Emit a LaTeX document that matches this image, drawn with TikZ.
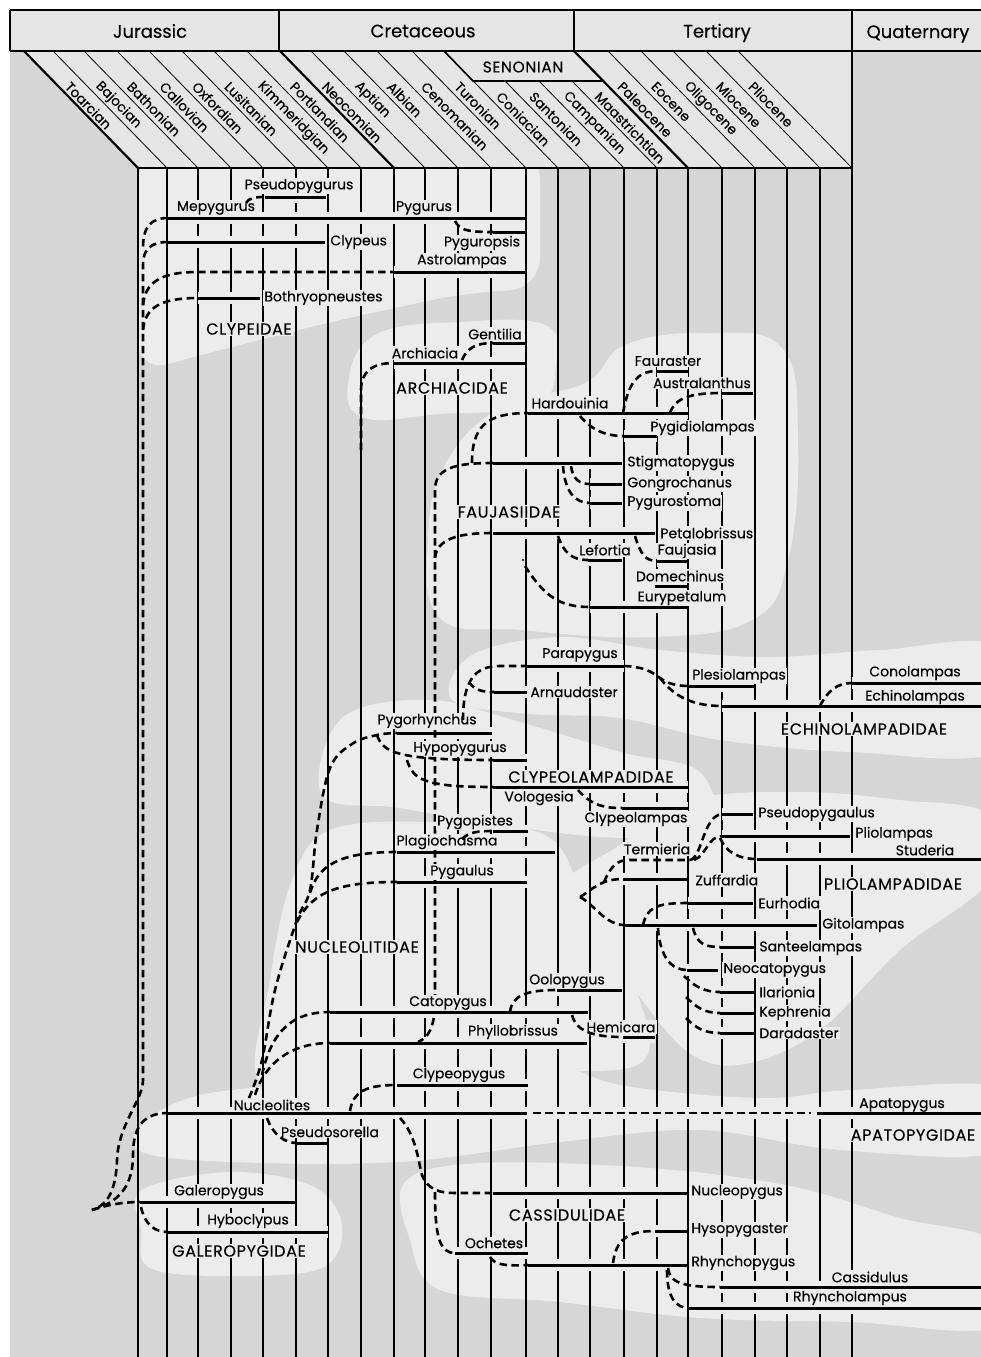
\documentclass[tikz,border=0pt]{standalone}
\usepackage{fontspec}
\setmainfont{Poppins}[FakeBold=0.35]
\newfontfamily\famfont{Poppins}[FakeBold=0.35, LetterSpace=4]
\definecolor{bgc}{HTML}{D6D6D6}
\definecolor{blobc}{HTML}{ECECEC}
\definecolor{hdrc}{HTML}{E5E5E5}
\tikzset{
  vline/.style={line width=1.1pt},
  vthick/.style={line width=2.2pt},
  barline/.style={line width=3pt},
  halo/.style={line width=12pt, blobc},
  dline/.style={line width=2.6pt, dash pattern=on 7.5pt off 4.5pt},
  lab/.style={font=\fontsize{14}{14}\selectfont, inner sep=1.2pt, fill=blobc},
  fam/.style={font=\famfont\fontsize{16}{16}\selectfont, inner sep=1.2pt, fill=blobc},
  stagelab/.style={font=\fontsize{13.5}{13.5}\selectfont, inner sep=0pt, rotate=-45.7, anchor=west},
  periodlab/.style={font=\fontsize{18}{18}\selectfont},
  hline/.style={line width=2.2pt},
}
\newcommand\taxon[4]{%
  \coordinate (#1-s) at (#2,#4);
  \coordinate (#1-e) at (#3,#4);
  \draw[halo] (#1-s) -- (#1-e);}
\begin{document}
\begin{tikzpicture}[x=1pt,y=-1pt]
\useasboundingbox (0,0) rectangle (981,1357);
\clip (0,0) rectangle (981,1357);
\fill[white] (0,0) rectangle (981,1357);
\fill[bgc] (10,10) rectangle (990,1360);
% ---------- blobs
\fill[blobc, rounded corners=30pt] (138,150) -- (540,150) -- (540,288) -- (460,294) -- (330,322) -- (220,350) -- (138,372) -- cycle;
\fill[blobc] plot[smooth cycle, tension=0.7] coordinates {(348,385) (375,335) (460,322) (545,325) (556,365) (535,405) (440,414) (365,418)};
\fill[blobc] plot[smooth cycle, tension=0.7] coordinates {(428,540) (445,465) (500,408) (585,383) (625,345) (705,333) (782,348) (798,440) (788,560) (752,620) (650,637) (520,630) (440,618)};
\fill[blobc] plot[smooth cycle, tension=0.6] coordinates {(452,700) (472,655) (560,637) (660,650) (770,657) (880,650) (1000,648) (1000,750) (850,752) (720,740) (620,718) (530,714)};
\fill[blobc] plot[smooth cycle, tension=0.6] coordinates {(322,795) (342,718) (430,700) (520,722) (620,752) (700,772) (708,830) (620,838) (500,825) (400,808)};
\fill[blobc] plot[smooth cycle, tension=0.6] coordinates {(262,1085) (270,980) (292,880) (330,830) (430,822) (545,835) (585,900) (632,980) (642,1062) (520,1070) (380,1072)};
\fill[blobc] plot[smooth cycle, tension=0.6] coordinates {(558,897) (620,845) (690,800) (800,792) (900,800) (990,815) (990,880) (900,950) (820,1030) (745,1064) (688,1052) (630,985)};
\fill[blobc] plot[smooth cycle, tension=0.6] coordinates {(142,1125) (200,1095) (330,1080) (400,1062) (530,1056) (620,1085) (760,1098) (850,1090) (1000,1088) (1000,1152) (840,1150) (700,1130) (560,1142) (400,1162) (230,1162) (142,1152)};
\fill[blobc] plot[smooth cycle, tension=0.6] coordinates {(142,1190) (230,1172) (312,1186) (342,1225) (322,1268) (230,1276) (150,1268) (141,1230)};
\fill[blobc] plot[smooth cycle, tension=0.6] coordinates {(405,1182) (480,1163) (650,1168) (790,1186) (900,1218) (1000,1245) (1000,1326) (850,1322) (700,1318) (560,1302) (440,1290) (410,1240)};
% ---------- vertical stage lines
\foreach \x in {167,198,231,263,296,328,361,394,425,458,491,526,558,590,624,657,688,722,755,787,820,852}
  \draw[vline] (\x,168) -- (\x,1360);
\draw[vthick] (138,168) -- (138,1360);
% ---------- header
\fill[hdrc] (10,10) rectangle (990,51);
\fill[hdrc] (24,51) -- (852,51) -- (852,168) -- (138,168) -- cycle;
\foreach \x in {167,198,231,263,296,328,361,425,458,491,526,558,722,755,787,820,852}
  \draw[line width=0.8pt] (\x-114,51) -- (\x,168);
\foreach \x in {590,624,657}
  \draw[line width=0.8pt] (\x-85,81) -- (\x,168);
\draw[hline] (24,51) -- (138,168);
\draw[hline] (280,51) -- (394,168);
\draw[hline] (574,51) -- (688,168);
\draw[line width=1.6pt] (444,51) -- (473,81) -- (603,81);
\draw[hline] (10,10) -- (990,10);
\draw[hline] (10,10) -- (10,51);
\draw[hline] (10,51) -- (990,51);
\draw[hline] (279,10) -- (279,51);
\draw[hline] (574,10) -- (574,51);
\draw[hline] (852,10) -- (852,168);
\draw[line width=1.3pt] (138,168) -- (852,168);
\node[periodlab] (pJur) at (150,31) {Jurassic};
\node[periodlab] (pCre) at (423,31) {Cretaceous};
\node[periodlab] (pTer) at (717,33) {Tertiary};
\node[periodlab] (pQua) at (918,34) {Quaternary};
\node[font=\famfont\fontsize{15.5}{15.5}\selectfont] (pSen) at (523,67) {SENONIAN};
\foreach \xa/\xb/\nm/\yy in {138/167/Toarcian/84, 167/198/Bajocian/84, 198/231/Bathonian/84,
   231/263/Callovian/84, 263/296/Oxfordian/84, 296/328/Lusitanian/84, 328/361/Kimmeridgian/84,
   361/394/Portlandian/84, 394/425/Neocomian/84, 425/458/Aptian/84, 458/491/Albian/84,
   491/526/Cenomanian/84, 526/558/Turonian/84, 558/590/Coniacian/94, 590/624/Santonian/94,
   624/657/Campanian/94, 657/688/Maastrichtian/94, 688/722/Paleocene/84, 722/755/Eocene/84,
   755/787/Oligocene/84, 787/820/Miocene/84, 820/852/Pliocene/84}
  \node[stagelab] at ({(\xa+\xb)/2 - 114*(168-\yy)/117 - 3}, \yy) {\nm};
% ---------- taxa (coordinates + halos)
\taxon{Pseudopygurus}{265}{326}{197}
\taxon{Pygurus}{168}{525}{218}
\taxon{Pyguropsis}{493}{525}{232}
\taxon{Clypeus}{168}{325}{242}
\taxon{Astrolampas}{394}{525}{272}
\taxon{Bothryopneustes}{198}{260}{298}
\taxon{Gentilia}{493}{525}{343}
\taxon{Archiacia}{394}{525}{363}
\taxon{Fauraster}{657}{688}{371}
\taxon{Australanthus}{722}{753}{393}
\taxon{Hardouinia}{528}{688}{413}
\taxon{Pygidiolampas}{624}{657}{436}
\taxon{Stigmatopygus}{493}{622}{463}
\taxon{Gongrochanus}{590}{622}{484}
\taxon{Pygurostoma}{590}{622}{503}
\taxon{Petalobrissus}{493}{655}{533}
\taxon{Lefortia}{588}{622}{560}
\taxon{Faujasia}{657}{687}{561}
\taxon{Domechinus}{655}{687}{586}
\taxon{Eurypetalum}{590}{687}{607}
\taxon{Parapygus}{527}{624}{666}
\taxon{Arnaudaster}{494}{527}{692}
\taxon{Plesiolampas}{689}{754}{686}
\taxon{Echinolampas}{722}{981}{706}
\taxon{Conolampas}{852}{981}{683}
\taxon{Pygorhynchus}{397}{492}{733}
\taxon{Hypopygurus}{493}{527}{760}
\taxon{Vologesia}{493}{688}{787}
\taxon{Clypeolampas}{622}{688}{808}
\taxon{Pygopistes}{493}{528}{831}
\taxon{Plagiochasma}{397}{555}{852}
\taxon{Pygaulus}{397}{527}{882}
\taxon{Catopygus}{330}{588}{1012}
\taxon{Oolopygus}{557}{622}{990}
\taxon{Hemicara}{623}{655}{1037}
\taxon{Phyllobrissus}{330}{587}{1043}
\taxon{Pseudopygaulus}{722}{753}{814}
\taxon{Pliolampas}{722}{850}{836}
\taxon{Studeria}{757}{981}{859}
\taxon{Zuffardia}{623}{687}{879}
\taxon{Eurhodia}{688}{753}{903}
\taxon{Gitolampas}{625}{817}{925}
\taxon{Santeelampas}{720}{754}{947}
\taxon{Neocatopygus}{687}{718}{970}
\taxon{Ilarionia}{720}{754}{992}
\taxon{Kephrenia}{720}{754}{1013}
\taxon{Daradaster}{720}{754}{1033}
\taxon{Clypeopygus}{397}{528}{1085}
\taxon{Nucleolites}{168}{527}{1113}
\taxon{Apatopygus}{817}{981}{1113}
\taxon{Pseudosorella}{297}{327}{1143}
\taxon{Galeropygus}{140}{295}{1202}
\taxon{Hyboclypus}{168}{328}{1232}
\taxon{Nucleopygus}{493}{687}{1193}
\taxon{Ochetes}{455}{528}{1253}
\taxon{Rhynchopygus}{528}{687}{1265}
\taxon{Hysopygaster}{655}{687}{1231}
\taxon{Cassidulus}{720}{981}{1287}
\taxon{Rhyncholampus}{689}{981}{1308}
\draw[halo] (533,1113) -- (811,1113);
% ---------- long trunk drawn below labels (labels interrupt it)
\draw[dline] (Stigmatopygus-s) .. controls (455,463) and (435,468) .. (435,490) -- (435,1000)
   .. controls (435,1028) and (428,1038) .. (418,1042);
% ---------- labels
\node[lab] (tPseudopygurus) at (299,186) {Pseudopygurus};
\node[lab] (tMepygurus) at (216,208) {Mepygurus};
\node[lab] (tPygurus) at (424,208) {Pygurus};
\node[lab] (tPyguropsis) at (482,243) {Pyguropsis};
\node[lab,anchor=west] (tClypeus) at (329,242) {Clypeus};
\node[lab] (tAstrolampas) at (462,261) {Astrolampas};
\node[lab,anchor=west] (tBothryopneustes) at (263,298) {Bothryopneustes};
\node[fam] (fClypeidae) at (249,329) {CLYPEIDAE};
\node[lab] (tGentilia) at (495,334) {Gentilia};
\node[lab] (tArchiacia) at (425,353) {Archiacia};
\node[fam] (fArchiacidae) at (452,388) {ARCHIACIDAE};
\node[lab] (tFauraster) at (668,361) {Fauraster};
\node[lab] (tAustralanthus) at (702,383) {Australanthus};
\node[lab] (tHardouinia) at (570,403) {Hardouinia};
\node[lab,anchor=west] (tPygidiolampas) at (649,428) {Pygidiolampas};
\node[lab,anchor=west] (tStigmatopygus) at (626,463) {Stigmatopygus};
\node[lab,anchor=west] (tGongrochanus) at (626,484) {Gongrochanus};
\node[lab,anchor=west] (tPygurostoma) at (626,503) {Pygurostoma};
\node[fam] (fFaujasiidae) at (509,512) {FAUJASIIDAE};
\node[lab,anchor=west] (tPetalobrissus) at (659,533) {Petalobrissus};
\node[lab] (tLefortia) at (605,550) {Lefortia};
\node[lab] (tFaujasia) at (687,551) {Faujasia};
\node[lab] (tDomechinus) at (680,576) {Domechinus};
\node[lab] (tEurypetalum) at (682,598) {Eurypetalum};
\node[lab] (tParapygus) at (580,655) {Parapygus};
\node[lab,anchor=west] (tArnaudaster) at (529,692) {Arnaudaster};
\node[lab] (tPlesiolampas) at (739,676) {Plesiolampas};
\node[lab] (tConolampas) at (915,673) {Conolampas};
\node[lab] (tEchinolampas) at (915,697) {Echinolampas};
\node[fam] (fEchinolampadidae) at (864,729) {ECHINOLAMPADIDAE};
\node[lab] (tPygorhynchus) at (427,721) {Pygorhynchus};
\node[lab] (tHypopygurus) at (460,749) {Hypopygurus};
\node[fam] (fClypeolampadidae) at (591,777) {CLYPEOLAMPADIDAE};
\node[lab] (tVologesia) at (539,798) {Vologesia};
\node[lab] (tClypeolampas) at (636,819) {Clypeolampas};
\node[lab] (tPygopistes) at (475,822) {Pygopistes};
\node[lab] (tPlagiochasma) at (447,842) {Plagiochasma};
\node[lab] (tPygaulus) at (462,872) {Pygaulus};
\node[fam] (fNucleolitidae) at (357,947) {NUCLEOLITIDAE};
\node[lab,anchor=west] (tPseudopygaulus) at (757,814) {Pseudopygaulus};
\node[lab,anchor=west] (tPliolampas) at (854,834) {Pliolampas};
\node[lab] (tStuderia) at (925,850) {Studeria};
\node[lab] (tTermieria) at (657,849) {Termieria};
\node[lab,anchor=west] (tZuffardia) at (694,880) {Zuffardia};
\node[fam] (fPliolampadidae) at (893,884) {PLIOLAMPADIDAE};
\node[lab,anchor=west] (tEurhodia) at (757,903) {Eurhodia};
\node[lab,anchor=west] (tGitolampas) at (821,925) {Gitolampas};
\node[lab,anchor=west] (tSanteelampas) at (758,948) {Santeelampas};
\node[lab,anchor=west] (tNeocatopygus) at (722,970) {Neocatopygus};
\node[lab,anchor=west] (tIlarionia) at (758,992) {Ilarionia};
\node[lab,anchor=west] (tKephrenia) at (758,1013) {Kephrenia};
\node[lab,anchor=west] (tDaradaster) at (758,1033) {Daradaster};
\node[lab] (tOolopygus) at (567,981) {Oolopygus};
\node[lab] (tCatopygus) at (448,1003) {Catopygus};
\node[lab] (tHemicara) at (621,1027) {Hemicara};
\node[lab] (tPhyllobrissus) at (513,1032) {Phyllobrissus};
\node[lab] (tClypeopygus) at (459,1075) {Clypeopygus};
\node[lab] (tNucleolites) at (272,1105) {Nucleolites};
\node[lab] (tApatopygus) at (902,1105) {Apatopygus};
\node[fam] (fApatopygidae) at (913,1135) {APATOPYGIDAE};
\node[lab] (tPseudosorella) at (330,1132) {Pseudosorella};
\node[lab] (tGaleropygus) at (219,1192) {Galeropygus};
\node[lab] (tHyboclypus) at (248,1221) {Hyboclypus};
\node[fam] (fGaleropygidae) at (239,1251) {GALEROPYGIDAE};
\node[lab,anchor=west] (tNucleopygus) at (690,1192) {Nucleopygus};
\node[fam] (fCassidulidae) at (567,1215) {CASSIDULIDAE};
\node[lab,anchor=west] (tHysopygaster) at (690,1230) {Hysopygaster};
\node[lab] (tOchetes) at (494,1243) {Ochetes};
\node[lab,anchor=west] (tRhynchopygus) at (690,1263) {Rhynchopygus};
\node[lab] (tCassidulus) at (870,1277) {Cassidulus};
\node[lab] (tRhyncholampus) at (850,1298) {Rhyncholampus};
% ---------- solid bars
\foreach \t in {Pseudopygurus,Pygurus,Pyguropsis,Clypeus,Astrolampas,Bothryopneustes,Gentilia,Archiacia,
  Fauraster,Australanthus,Hardouinia,Pygidiolampas,Stigmatopygus,Gongrochanus,Pygurostoma,Petalobrissus,
  Lefortia,Faujasia,Domechinus,Eurypetalum,Parapygus,Arnaudaster,Plesiolampas,Echinolampas,Conolampas,
  Pygorhynchus,Hypopygurus,Vologesia,Clypeolampas,Pygopistes,Plagiochasma,Pygaulus,Catopygus,Oolopygus,
  Hemicara,Phyllobrissus,Pseudopygaulus,Pliolampas,Studeria,Zuffardia,Eurhodia,Gitolampas,Santeelampas,
  Neocatopygus,Ilarionia,Kephrenia,Daradaster,Clypeopygus,Nucleolites,Apatopygus,Pseudosorella,
  Galeropygus,Hyboclypus,Nucleopygus,Ochetes,Rhynchopygus,Hysopygaster,Cassidulus,Rhyncholampus}
  \draw[barline] (\t-s) -- (\t-e);
% ---------- dashed connectors
\coordinate (root) at (92,1210);
\coordinate (pliroot) at (580,897);
\draw[dline] (Pygurus-s) .. controls (150,218) and (143,228) .. (143,248);
\draw[dline] (Clypeus-s) .. controls (150,242) and (143,250) .. (143,265) -- (143,1080)
   .. controls (143,1100) and (118,1125) .. (117,1160) .. controls (116,1190) and (108,1205) .. (root);
\draw[dline] (143,305) .. controls (145,283) and (160,272) .. (197,272) -- (Astrolampas-s);
\draw[dline] (143,330) .. controls (145,308) and (160,298) .. (Bothryopneustes-s);
\draw[dline] (246,203) .. controls (249,198) and (254,197) .. (Pseudopygurus-s);
\draw[dline] (455,221) .. controls (460,230) and (466,232) .. (Pyguropsis-s);
\draw[dline] (361,450) -- (361,390) .. controls (361,372) and (372,363) .. (Archiacia-s);
\draw[dline] (462,360) .. controls (467,348) and (476,343) .. (Gentilia-s);
\draw[dline] (435,558) .. controls (437,540) and (455,533) .. (Petalobrissus-s);
\draw[dline] (472,463) .. controls (472,428) and (485,413) .. (Hardouinia-s);
\draw[dline] (623,413) .. controls (628,385) and (636,371) .. (Fauraster-s);
\draw[dline] (670,413) .. controls (675,398) and (690,393) .. (Australanthus-s);
\draw[dline] (580,416) .. controls (592,430) and (605,436) .. (Pygidiolampas-s);
\draw[dline] (571,466) .. controls (573,480) and (580,484) .. (Gongrochanus-s);
\draw[dline] (563,466) .. controls (565,492) and (575,503) .. (Pygurostoma-s);
\draw[dline] (558,536) .. controls (564,553) and (572,560) .. (Lefortia-s);
\draw[dline] (635,536) .. controls (640,553) and (645,561) .. (Faujasia-s);
\draw[dline] (525,566) .. controls (545,597) and (560,607) .. (Eurypetalum-s);
\fill (523,560) circle (1.2);
\draw[dline] plot[smooth, tension=0.6] coordinates {(249,1098) (262,1060) (275,990) (297,920) (310,890) (317,830) (330,768) (352,744) (377,735) (397,733)};
\draw[dline] (310,893) .. controls (318,866) and (338,852) .. (Plagiochasma-s);
\draw[dline] (297,922) .. controls (312,892) and (338,882) .. (Pygaulus-s);
\draw[dline] (262,1075) .. controls (272,1028) and (295,1012) .. (Catopygus-s);
\draw[dline] (255,1095) .. controls (268,1055) and (300,1043) .. (Phyllobrissus-s);
\draw[dline] (377,735) .. controls (383,752) and (395,760) .. (Hypopygurus-s);
\draw[dline] (407,760) .. controls (413,780) and (425,787) .. (Vologesia-s);
\draw[dline] (578,790) .. controls (592,806) and (605,808) .. (Clypeolampas-s);
\draw[dline] (462,839) .. controls (469,832) and (478,831) .. (Pygopistes-s);
\draw[dline] (463,720) .. controls (463,680) and (475,666) .. (500,666) -- (Parapygus-s);
\draw[dline] (469,682) .. controls (474,690) and (482,692) .. (Arnaudaster-s);
\draw[dline] (Parapygus-e) .. controls (645,667) and (652,672) .. (660,678) .. controls (668,684) and (678,686) .. (Plesiolampas-s);
\draw[dline] (660,678) .. controls (675,698) and (695,706) .. (Echinolampas-s);
\draw[dline] (820,706) .. controls (828,690) and (838,683) .. (Conolampas-s);
\draw[dline] (pliroot) .. controls (592,890) and (600,879) .. (Zuffardia-s);
\draw[dline] (604,882) .. controls (612,864) and (618,860) .. (630,860) -- (690,860);
\draw[dline] (690,860) .. controls (702,858) and (703,816) .. (Pseudopygaulus-s);
\draw[dline] (694,860) .. controls (706,856) and (708,836) .. (Pliolampas-s);
\draw[dline] (720,838) .. controls (726,852) and (738,859) .. (Studeria-s);
\draw[dline] (pliroot) .. controls (595,905) and (605,925) .. (Gitolampas-s);
\draw[dline] (643,925) .. controls (647,908) and (655,903) .. (Eurhodia-s);
\draw[dline] (693,928) .. controls (697,944) and (705,947) .. (Santeelampas-s);
\draw[dline] (658,928) .. controls (660,958) and (672,970) .. (Neocatopygus-s);
\draw[dline] (684,976) .. controls (694,986) and (704,992) .. (Ilarionia-s);
\draw[dline] (686,997) .. controls (696,1007) and (704,1013) .. (Kephrenia-s);
\draw[dline] (686,1018) .. controls (696,1028) and (704,1033) .. (Daradaster-s);
\draw[dline] (510,1012) .. controls (512,996) and (525,990) .. (Oolopygus-s);
\draw[dline] (572,1015) .. controls (576,1030) and (590,1037) .. (Hemicara-s);
\draw[dline] (350,1111) .. controls (353,1092) and (365,1085) .. (Clypeopygus-s);
\draw[dline] (267,1118) .. controls (273,1135) and (285,1143) .. (Pseudosorella-s);
\draw[dline] (Nucleolites-e) ++(6,0) -- (811,1113);
\draw[dline] (root) .. controls (120,1202) and (133,1185) .. (133,1155) .. controls (133,1125) and (145,1113) .. (Nucleolites-s);
\draw[dline] (root) .. controls (110,1204) and (125,1202) .. (Galeropygus-s);
\draw[dline] (141,1207) .. controls (145,1225) and (155,1232) .. (Hyboclypus-s);
\draw[dline] (400,1118) .. controls (416,1135) and (418,1160) .. (422,1175) .. controls (428,1190) and (440,1193) .. (455,1193) -- (Nucleopygus-s);
\draw[dline] (435,1192) .. controls (435,1238) and (440,1253) .. (Ochetes-s);
\draw[dline] (490,1257) .. controls (495,1265) and (505,1266) .. (Rhynchopygus-s);
\draw[dline] (613,1263) .. controls (616,1240) and (627,1231) .. (Hysopygaster-s);
\draw[dline] (668,1268) .. controls (670,1282) and (680,1287) .. (Cassidulus-s);
\draw[dline] (667,1270) .. controls (667,1298) and (676,1308) .. (Rhyncholampus-s);
\end{tikzpicture}
\end{document}
